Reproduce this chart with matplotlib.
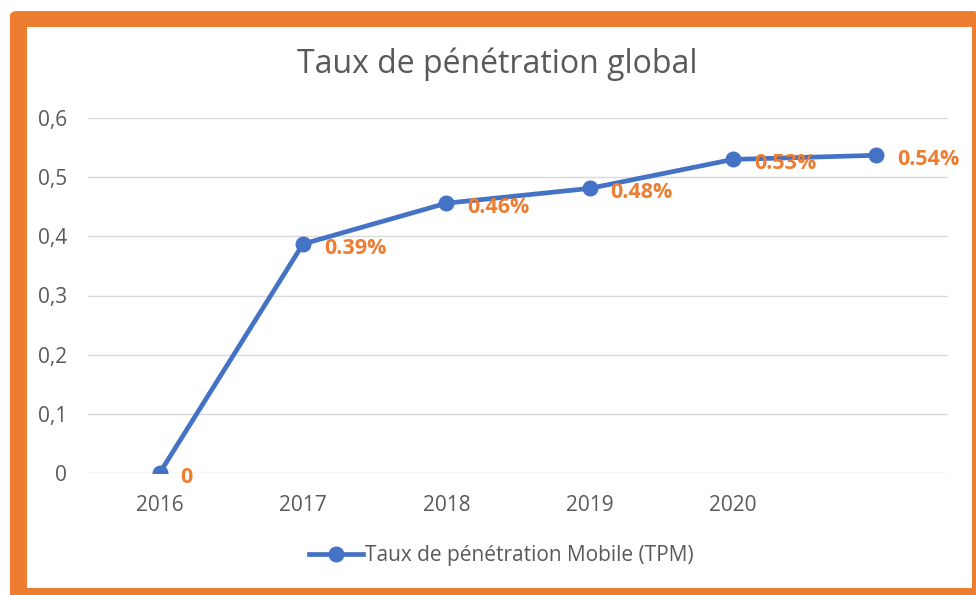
import matplotlib
matplotlib.use("Agg")
import matplotlib.pyplot as plt
from matplotlib.patches import FancyBboxPatch, Rectangle
from matplotlib.lines import Line2D
from matplotlib.ticker import FuncFormatter

categories = ["2016", "2017", "2018", "2019", "2020", ""]
values = [0, 0.387, 0.456, 0.481, 0.530, 0.537]
labels = ["0", "0.39%", "0.46%", "0.48%", "0.53%", "0.54%"]
title = "Taux de pénétration global"
series_name = "Taux de pénétration Mobile (TPM)"

BLUE = "#4472C4"
ORANGE = "#ED7D31"
GRAY = "#595959"

plt.rcParams['font.family'] = ['Open Sans', 'DejaVu Sans']

W, H = 976, 595
fig = plt.figure(figsize=(W / 100, H / 100), dpi=100)
fig.patch.set_facecolor("white")

def fx(x): return x / W
def fy(y): return 1 - y / H

frame = FancyBboxPatch((fx(10), fy(600)), fx(980) - fx(10), fy(11) - fy(600),
                       boxstyle="round,pad=0,rounding_size=0.008",
                       transform=fig.transFigure, facecolor=ORANGE, edgecolor="none", zorder=0)
fig.patches.append(frame)
inner = Rectangle((fx(27), fy(588)), fx(972) - fx(27), fy(27) - fy(588),
                  transform=fig.transFigure, facecolor="white", edgecolor="none", zorder=0.5)
fig.patches.append(inner)

left, right, top, bottom = 88, 948, 118, 473
ax = fig.add_axes([fx(left), fy(bottom), fx(right) - fx(left), fy(top) - fy(bottom)])
ax.set_zorder(2)
ax.set_facecolor("none")

x = list(range(len(categories)))
ax.plot(x, values, color=BLUE, lw=3.4, marker="o", ms=10.5, solid_capstyle="round", zorder=3)
for xi, v, lab in zip(x, values, labels):
    ax.annotate(lab, (xi, v), xytext=(15, -3), textcoords="offset points",
                ha="left", va="center", color=ORANGE, fontsize=15.5, fontweight="bold", zorder=4)

ax.set_xlim(-0.5, len(categories) - 0.5)
ax.set_ylim(0, 0.6)
ax.set_yticks([0, 0.1, 0.2, 0.3, 0.4, 0.5, 0.6])
ax.yaxis.set_major_formatter(FuncFormatter(lambda v, p: "0" if v == 0 else f"{v:.1f}".replace(".", ",")))
ax.set_xticks(x)
ax.set_xticklabels(categories)
ax.grid(axis="y", color="#D9D9D9", lw=1)
ax.set_axisbelow(True)
for s in ax.spines.values():
    s.set_visible(False)
ax.tick_params(axis="both", length=0, colors=GRAY, labelsize=15)
ax.tick_params(axis="y", pad=15)
ax.tick_params(axis="x", pad=16)

fig.text(fx(497), fy(64), title, ha="center", va="center", fontsize=23, color=GRAY)

handle = Line2D([], [], color=BLUE, lw=3.4, marker="o", ms=10.5)
fig.legend([handle], [series_name], loc="center", bbox_to_anchor=(fx(501), fy(556)),
           frameon=False, fontsize=15, labelcolor=GRAY, handlelength=2.6, handletextpad=0.1)

fig.savefig("out.png", dpi=100)
